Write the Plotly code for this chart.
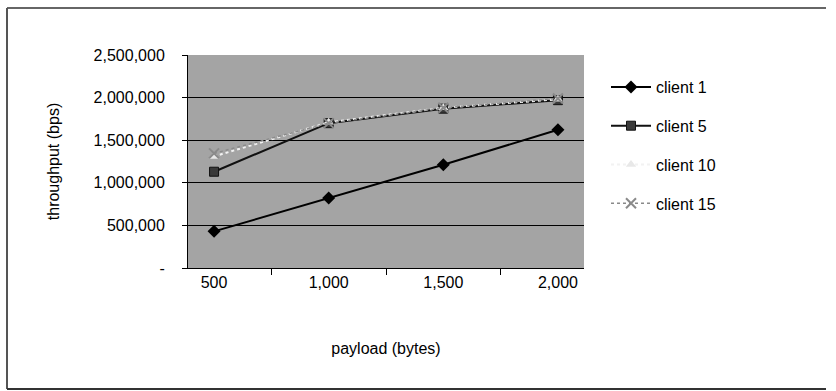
import plotly.graph_objects as go

# Payload sizes (bytes) and measured throughput (bps) per client count
payload = ["500", "1,000", "1,500", "2,000"]
client_1 = [430000, 822000, 1212000, 1623000]
client_5 = [1130000, 1700000, 1870000, 1970000]
client_10 = [1310000, 1710000, 1880000, 1980000]
client_15 = [1345000, 1700000, 1880000, 1990000]

y_ticks = [0, 500000, 1000000, 1500000, 2000000, 2500000]
y_tick_text = ["-", "500,000", "1,000,000", "1,500,000", "2,000,000", "2,500,000"]

FONT = "Liberation Sans, Arial, sans-serif"

fig = go.Figure()

fig.add_trace(go.Scatter(
    x=payload, y=client_1, name="client 1", mode="lines+markers",
    legendgroup="c1",
    line=dict(color="black", width=2),
    marker=dict(symbol="diamond", size=10, color="black"),
))
fig.add_trace(go.Scatter(
    x=payload, y=client_5, name="client 5", mode="lines+markers",
    legendgroup="c5",
    line=dict(color="#111111", width=2),
    marker=dict(symbol="square", size=9, color="#3a3a3a",
                line=dict(color="#111111", width=1)),
))
fig.add_trace(go.Scatter(
    x=payload, y=client_10, name="client 10", mode="lines+markers",
    legendgroup="c10",
    line=dict(color="#f2f2f2", width=2, dash="dot"),
    marker=dict(symbol="triangle-up", size=9, color="#e8e8e8"),
))
fig.add_trace(go.Scatter(
    x=payload, y=client_15, name="client 15", mode="lines+markers",
    legendgroup="c15",
    line=dict(color="#8a8a8a", width=1.5, dash="dot"),
    marker=dict(symbol="x-thin-open", size=10,
                line=dict(color="#e6e6e6", width=2)),
))

# plot area spans x 188..584 px and y 55..268 px
PW, PH = 396.0, 213.0


def px_x(x):
    return (x - 188) / PW


def px_y(y):
    return (268 - y) / PH


fig.update_layout(
    width=836, height=391,
    margin=dict(l=188, r=252, t=55, b=123),
    paper_bgcolor="white",
    plot_bgcolor="#a4a4a4",
    font=dict(family=FONT, size=16, color="black"),
    showlegend=True,
    legend=dict(
        x=px_x(606), xanchor="left", y=px_y(70), yanchor="top",
        bgcolor="rgba(0,0,0,0)", font=dict(size=16, family=FONT),
        tracegroupgap=15, itemwidth=40, traceorder="grouped",
    ),
    xaxis=dict(
        type="category", tickson="boundaries",
        showline=True, linecolor="black", linewidth=1,
        ticks="outside", ticklen=6, tickcolor="black",
        showgrid=False, tickfont=dict(size=16),
        title=dict(text="payload (bytes)", font=dict(size=16), standoff=52),
    ),
    yaxis=dict(
        range=[0, 2500000], tickvals=y_ticks, ticktext=y_tick_text,
        showline=True, linecolor="black", linewidth=1,
        ticks="outside", ticklen=5, tickcolor="black",
        ticklabelstandoff=14,
        showgrid=True, gridcolor="black", gridwidth=1,
        zeroline=False, tickfont=dict(size=16),
        title=dict(text="throughput (bps)", font=dict(size=16), standoff=30),
    ),
    shapes=[
        # outer frame (top, left, bottom edges)
        dict(type="line", xref="paper", yref="paper", x0=px_x(7), x1=px_x(826),
             y0=px_y(8), y1=px_y(8), line=dict(color="#333333", width=1.5)),
        dict(type="line", xref="paper", yref="paper", x0=px_x(7), x1=px_x(7),
             y0=px_y(8), y1=px_y(389), line=dict(color="#555555", width=2)),
        dict(type="line", xref="paper", yref="paper", x0=px_x(7), x1=px_x(826),
             y0=px_y(389), y1=px_y(389), line=dict(color="#333333", width=2)),
    ],
)

fig.write_html("out.html")
